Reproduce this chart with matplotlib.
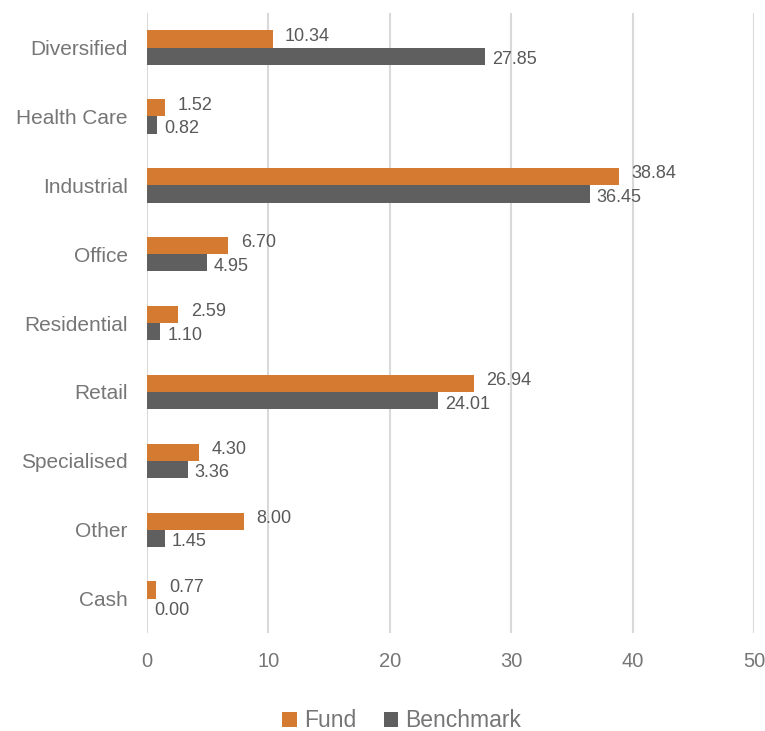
import matplotlib
matplotlib.use("Agg")
import matplotlib.pyplot as plt
import numpy as np
from matplotlib.patches import Patch

categories = ["Diversified", "Health Care", "Industrial", "Office", "Residential",
              "Retail", "Specialised", "Other", "Cash"]
fund = [10.34, 1.52, 38.84, 6.70, 2.59, 26.94, 4.30, 8.00, 0.77]
benchmark = [27.85, 0.82, 36.45, 4.95, 1.10, 24.01, 3.36, 1.45, 0.00]
xticks = [0, 10, 20, 30, 40, 50]

plt.rcParams['font.family'] = ['Liberation Sans', 'DejaVu Sans']

FUND_C = "#D57B31"
BENCH_C = "#5F5F5F"
LABEL_C = "#595959"
TICK_C = "#767676"

fig = plt.figure(figsize=(7.65, 7.31), dpi=100)
ax = fig.add_axes([0.1922, 0.134, 0.7934, 0.848])

y = np.arange(len(categories))
h = 0.25
ax.barh(y - h / 2, fund, height=h, color=FUND_C, zorder=3)
ax.barh(y + h / 2, benchmark, height=h, color=BENCH_C, zorder=3)

for yi, v in zip(y, fund):
    ax.annotate(f"{v:.2f}", (v, yi - h / 2), xytext=(9, 2), textcoords="offset points",
                ha="left", va="center", fontsize=13, color=LABEL_C)
for yi, v in zip(y, benchmark):
    ax.annotate(f"{v:.2f}", (v, yi + h / 2), xytext=(5, -2.5), textcoords="offset points",
                ha="left", va="center", fontsize=13, color=LABEL_C)

ax.set_xlim(0, 50)
ax.set_ylim(len(categories) - 0.5, -0.5)
ax.set_xticks(xticks)
ax.set_xticklabels([str(t) for t in xticks])
ax.set_yticks(y)
ax.set_yticklabels(categories)
ax.tick_params(axis="x", length=0, labelsize=14.5, labelcolor=TICK_C, pad=14)
ax.tick_params(axis="y", length=0, labelsize=15, labelcolor=TICK_C, pad=14)
ax.grid(axis="x", color="#D9D9D9", linewidth=1.5, zorder=0)
for s in ax.spines.values():
    s.set_visible(False)

handles = [Patch(facecolor=FUND_C), Patch(facecolor=BENCH_C)]
fig.legend(handles, ["Fund", "Benchmark"], loc="center", bbox_to_anchor=(0.525, 0.014),
           ncol=2, frameon=False, fontsize=16.5, labelcolor=TICK_C,
           handlelength=0.65, handleheight=0.65, handletextpad=0.3, columnspacing=1.2)

fig.savefig("out.png", dpi=100)
